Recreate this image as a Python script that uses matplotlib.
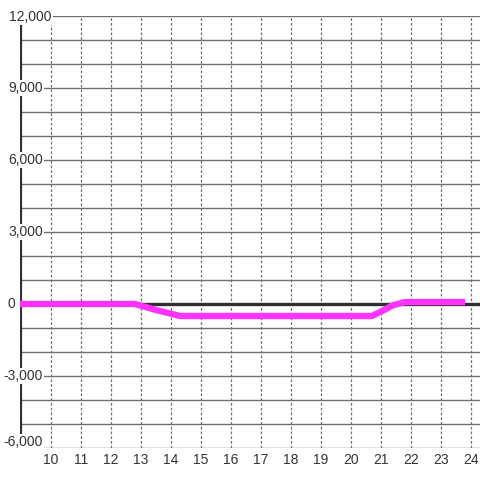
import numpy as np
import matplotlib
matplotlib.use("Agg")
import matplotlib.pyplot as plt
import matplotlib.transforms as mtransforms

# data
hours = [8.9, 12.8, 13.5, 14.3, 20.7, 21.1, 21.4, 21.8, 23.8]
values = [0, 0, -250, -500, -500, -250, -50, 80, 80]

x_ticks = list(range(10, 25))
y_ticks = [12000, 9000, 6000, 3000, 0, -3000, -6000]
y_labels = ["12,000", "9,000", "6,000", "3,000", "0", "-3,000", "-6,000"]

W = H = 480
fig = plt.figure(figsize=(4.8, 4.8), dpi=100)
fig.patch.set_facecolor("white")

# axes area in pixels: left 20, right 480, top 16, bottom 448
ax = fig.add_axes([20 / W, (H - 448) / H, 460 / W, 432 / H])
ax.set_xlim(10 - 31 / 30, 10 + 429 / 30)
ax.set_ylim(-6000, 12000)
for s in ax.spines.values():
    s.set_visible(False)
ax.set_xticks([])
ax.set_yticks([])

# horizontal solid grid every 1000
for yv in range(-6000, 12001, 1000):
    ax.axhline(yv, color="#707070", lw=1.0, zorder=1)
# vertical dotted grid
for xv in x_ticks:
    ax.axvline(xv, color="#707070", lw=0.9, linestyle=(0, (2.2, 1.6)), zorder=1)

# zero line and left axis
ax.axhline(0, color="#2f2f2f", lw=2.4, zorder=2)
ax.axvline(ax.get_xlim()[0] + 0.005, color="#2f2f2f", lw=3, zorder=2)

# series
ax.plot(hours, values, color="#ff33ff", lw=4.6, solid_joinstyle="round",
        solid_capstyle="butt", zorder=3)

# y labels with white background
label_right = [52, 43, 43, 43, 15, 43, 43]
label_dy = [-1, 0, 0, 0, 0, 0, 6]
for yv, lab, xr, dy in zip(y_ticks, y_labels, label_right, label_dy):
    tr = mtransforms.blended_transform_factory(fig.transFigure, ax.transData)
    tr = tr + mtransforms.ScaledTranslation(0, dy / 100, fig.dpi_scale_trans)
    fig.text(xr / W, yv, lab, transform=tr, ha="right", va="center",
             fontsize=10, color="#333333", family="Liberation Sans",
             bbox=dict(facecolor="white", edgecolor="none", pad=1.0), zorder=5)

# x labels
xl_tr = mtransforms.offset_copy(ax.transData, fig=fig, y=-5, units="dots")
for xv in x_ticks:
    ax.text(xv, -6000, str(xv), transform=xl_tr, ha="center", va="top",
            fontsize=10, color="#333333", family="Liberation Sans",
            clip_on=False)

fig.savefig("out.png", dpi=100, facecolor="white")
